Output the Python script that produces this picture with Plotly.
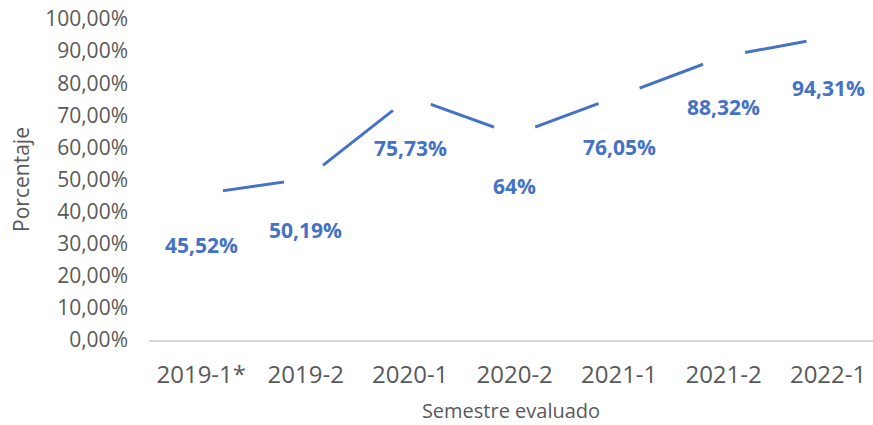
import plotly.graph_objects as go

semestres = ["2019-1*", "2019-2", "2020-1", "2020-2", "2021-1", "2021-2", "2022-1"]
porcentajes = [0.4552, 0.5019, 0.7573, 0.64, 0.7605, 0.8832, 0.9431]
etiquetas = ["45,52%", "50,19%", "75,73%", "64%", "76,05%", "88,32%", "94,31%"]
y_ticks = [i / 10 for i in range(11)]

BLUE = "#4472C4"
GRAY = "#595959"
FONT = "Open Sans"

fig = go.Figure()
fig.add_trace(go.Scatter(
    x=semestres, y=porcentajes, mode="lines+markers",
    line=dict(color=BLUE, width=3),
    marker=dict(color="white", size=44, symbol="circle", line=dict(width=0)),
    cliponaxis=False, hoverinfo="skip", showlegend=False,
))

for s, v, t in zip(semestres, porcentajes, etiquetas):
    fig.add_annotation(x=s, y=v, text=t, showarrow=False, yshift=-51,
                       xanchor="center", yanchor="middle",
                       font=dict(family=FONT, size=21, color=BLUE, weight="bold"))

fig.update_layout(
    width=873, height=425,
    margin=dict(l=149, r=0, t=19, b=85, autoexpand=False),
    paper_bgcolor="white", plot_bgcolor="white",
    separators=",.",
    font=dict(family=FONT, color=GRAY),
    xaxis=dict(
        type="category", range=[-0.5, 6.43], automargin=False,
        showgrid=False, zeroline=False,
        showline=True, linecolor="#D9D9D9", linewidth=1.5,
        ticks="", tickfont=dict(family=FONT, size=24, color=GRAY),
        ticklabelstandoff=13,
        title=dict(text="Semestre evaluado", font=dict(family=FONT, size=20, color=GRAY), standoff=14),
    ),
    yaxis=dict(
        range=[0, 1], tickvals=y_ticks, tickformat=".2%", automargin=False,
        showgrid=False, zeroline=False, showline=False,
        ticks="", tickfont=dict(family=FONT, size=21, color=GRAY),
        ticklabelstandoff=20,
        title=dict(text="Porcentaje", font=dict(family=FONT, size=21, color=GRAY), standoff=9),
    ),
)

fig.write_html("out.html", config={"displayModeBar": False, "staticPlot": True},
               post_script="document.body.style.margin='0';document.body.style.padding='0';")
